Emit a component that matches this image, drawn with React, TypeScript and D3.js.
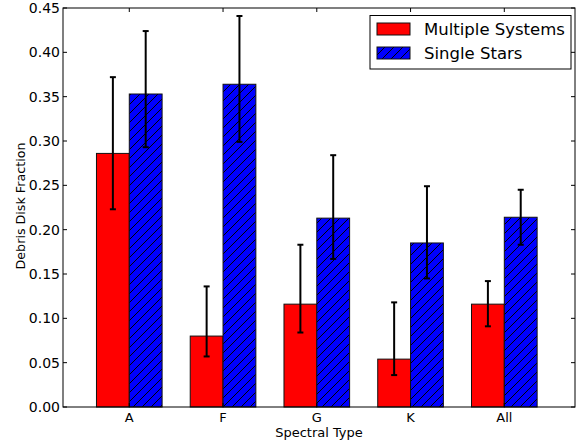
import React, { useRef, useEffect } from "react";
import * as d3 from "d3";

// spectral type groups
const categories = ["A", "F", "G", "K", "All"];
const multipleValues = [0.286, 0.08, 0.116, 0.054, 0.116];
const multipleLow = [0.223, 0.057, 0.084, 0.036, 0.091];
const multipleHigh = [0.372, 0.136, 0.183, 0.118, 0.142];
const singleValues = [0.353, 0.364, 0.213, 0.185, 0.214];
const singleLow = [0.293, 0.299, 0.167, 0.145, 0.183];
const singleHigh = [0.424, 0.441, 0.284, 0.249, 0.245];
const yTicks = [0, 0.05, 0.1, 0.15, 0.2, 0.25, 0.3, 0.35, 0.4, 0.45];

export default function App() {
  const ref = useRef<SVGSVGElement>(null);

  useEffect(() => {
    const svg = d3.select(ref.current);
    svg.selectAll("*").remove();

    const left = 63, right = 575, top = 8, bottom = 407;
    const barW = 0.35;
    const font = "DejaVu Sans, sans-serif";

    const x = d3.scaleLinear().domain([-0.707, 4.754]).range([left, right]);
    const y = d3.scaleLinear().domain([0, 0.45]).range([bottom, top]);

    const hs = 9;
    const defs = svg.append("defs");
    const pat = defs
      .append("pattern")
      .attr("id", "hatch")
      .attr("patternUnits", "userSpaceOnUse")
      .attr("width", hs)
      .attr("height", hs);
    pat.append("rect").attr("width", hs).attr("height", hs).attr("fill", "#0000ff");
    pat
      .append("path")
      .attr("d", `M0,${hs} L${hs},0 M-2,2 L2,-2 M${hs - 2},${hs + 2} L${hs + 2},${hs - 2}`)
      .attr("stroke", "#000")
      .attr("stroke-width", 1);

    const series = [
      { values: multipleValues, lo: multipleLow, hi: multipleHigh, fill: "#ff0000", off: -barW },
      { values: singleValues, lo: singleLow, hi: singleHigh, fill: "url(#hatch)", off: 0 },
    ];

    series.forEach((s) => {
      svg
        .append("g")
        .selectAll("rect")
        .data(s.values)
        .enter()
        .append("rect")
        .attr("x", (_d, i) => x(i + s.off))
        .attr("width", x(barW) - x(0))
        .attr("y", (d) => y(d))
        .attr("height", (d) => bottom - y(d))
        .attr("fill", s.fill)
        .attr("stroke", "#111")
        .attr("stroke-width", 1);
    });

    // error bars
    series.forEach((s) => {
      const g = svg.append("g").attr("stroke", "#000").attr("stroke-width", 2);
      s.values.forEach((_d, i) => {
        const cx = x(i + s.off + barW / 2);
        g.append("line").attr("x1", cx).attr("x2", cx).attr("y1", y(s.lo[i])).attr("y2", y(s.hi[i]));
        [s.lo[i], s.hi[i]].forEach((v) => {
          g.append("line").attr("x1", cx - 3).attr("x2", cx + 3).attr("y1", y(v)).attr("y2", y(v));
        });
      });
    });

    // frame
    svg
      .append("rect")
      .attr("x", left)
      .attr("y", top)
      .attr("width", right - left)
      .attr("height", bottom - top)
      .attr("fill", "none")
      .attr("stroke", "#000")
      .attr("stroke-width", 1);

    // y ticks (inward, both sides)
    const yg = svg.append("g");
    yTicks.forEach((t) => {
      yg.append("line").attr("x1", left).attr("x2", left + 4).attr("y1", y(t)).attr("y2", y(t)).attr("stroke", "#000");
      yg.append("line").attr("x1", right - 4).attr("x2", right).attr("y1", y(t)).attr("y2", y(t)).attr("stroke", "#000");
      yg.append("text")
        .attr("x", left - 3)
        .attr("y", y(t))
        .attr("dy", "0.35em")
        .attr("text-anchor", "end")
        .attr("font-family", font)
        .attr("font-size", 14)
        .attr("fill", "#000")
        .text(t.toFixed(2));
    });

    // x ticks
    const xg = svg.append("g");
    categories.forEach((c, i) => {
      xg.append("line").attr("x1", x(i)).attr("x2", x(i)).attr("y1", bottom).attr("y2", bottom - 4).attr("stroke", "#000");
      xg.append("line").attr("x1", x(i)).attr("x2", x(i)).attr("y1", top).attr("y2", top + 4).attr("stroke", "#000");
      xg.append("text")
        .attr("x", x(i))
        .attr("y", bottom + 15)
        .attr("text-anchor", "middle")
        .attr("font-family", font)
        .attr("font-size", 13)
        .attr("fill", "#000")
        .text(c);
    });

    svg
      .append("text")
      .attr("x", (left + right) / 2)
      .attr("y", 437)
      .attr("text-anchor", "middle")
      .attr("font-family", font)
      .attr("font-size", 13)
      .text("Spectral Type");

    svg
      .append("text")
      .attr("transform", `translate(25, 206) rotate(-90)`)
      .attr("text-anchor", "middle")
      .attr("font-family", font)
      .attr("font-size", 12.7)
      .text("Debris Disk Fraction");

    // legend
    const lg = svg.append("g");
    lg.append("rect")
      .attr("x", 370)
      .attr("y", 15.5)
      .attr("width", 201)
      .attr("height", 53.5)
      .attr("fill", "#fff")
      .attr("stroke", "#000")
      .attr("stroke-width", 1);
    const items = [
      { label: "Multiple Systems", fill: "#ff0000" },
      { label: "Single Stars", fill: "url(#hatch)" },
    ];
    items.forEach((it, i) => {
      const yy = 23 + i * 24;
      lg.append("rect")
        .attr("x", 377)
        .attr("y", yy)
        .attr("width", 33)
        .attr("height", 12)
        .attr("fill", it.fill)
        .attr("stroke", "#111");
      lg.append("text")
        .attr("x", 424)
        .attr("y", yy + 6)
        .attr("dy", "0.35em")
        .attr("font-family", font)
        .attr("font-size", 16.5)
        .text(it.label);
    });
  }, []);

  return (
    <svg
      ref={ref}
      width={577}
      height={445}
      style={{ position: "absolute", left: 0, top: 0, background: "#fff" }}
    />
  );
}
